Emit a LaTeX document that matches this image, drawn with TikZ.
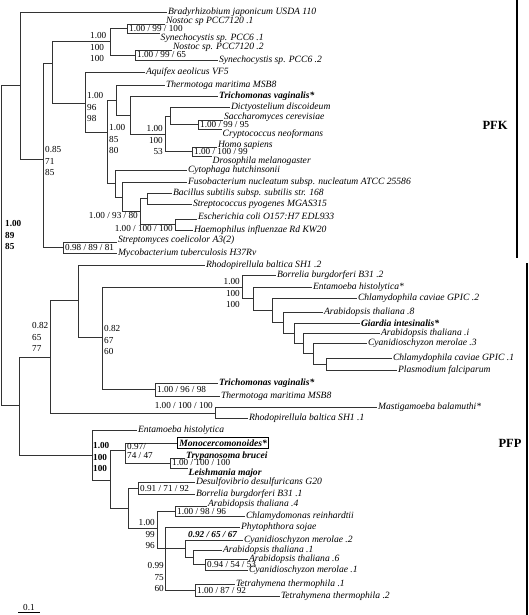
\documentclass[tikz,border=0pt]{standalone}
\usepackage{fontspec}
\setmainfont{Liberation Serif}
\usetikzlibrary{positioning}

\begin{document}
\begin{tikzpicture}[x=1pt,y=-1pt,
    br/.style={line width=0.8pt, black!80},
    leaf/.style={anchor=west, inner sep=0.8pt, font=\fontsize{9.6}{11}\selectfont\itshape},
    leafup/.style={leaf, anchor=base west},
    leafdn/.style={leaf, anchor=north west, inner sep=0.5pt},
    bleaf/.style={leaf, font=\fontsize{9.6}{11}\selectfont\bfseries\itshape},
    supp/.style={inner sep=0pt, align=left, font=\fontsize{9.2}{11.5}\selectfont},
    bsupp/.style={supp, font=\fontsize{9.2}{11.5}\selectfont\bfseries},
    grp/.style={font=\fontsize{12.5}{14}\selectfont\bfseries}]
  \useasboundingbox (0,0) rectangle (528,615);

  % PFK part
  \coordinate (r) at (1,245);
  \coordinate (n1) at (20,85);
  \coordinate (n2) at (43,159);
  \coordinate (n3) at (52,63);
  \coordinate (n4) at (110,41);
  \coordinate (n4a) at (127,28.5);
  \coordinate (n4b) at (135,55);
  \coordinate (n5) at (85,103);
  \coordinate (n6) at (107,132);
  \coordinate (n7) at (116,100);
  \coordinate (n8) at (130,115);
  \coordinate (n9) at (165,134);
  \coordinate (n10) at (170,116);
  \coordinate (n11) at (198,124.5);
  \coordinate (n12) at (192,151.5);
  \coordinate (n13) at (115,183.5);
  \coordinate (n14) at (122,197);
  \coordinate (n15) at (140,211.5);
  \coordinate (n16) at (147,198.5);
  \coordinate (n17) at (175,224.5);
  \coordinate (n18) at (63,247.5);

  \node[leaf] (bra) at (167,12) {Bradyrhizobium japonicum USDA 110};
  \node[leafup] (nos1) at (165,24) {Nostoc sp PCC7120 .1};
  \node[leafdn] (syn1) at (160,33) {Synechocystis sp. PCC6 .1};
  \node[leafup] (nos2) at (172,50) {Nostoc sp. PCC7120 .2};
  \node[leaf] (syn2) at (218,60) {Synechocystis sp. PCC6 .2};
  \node[leaf] (aqu) at (145,72) {Aquifex aeolicus VF5};
  \node[leaf] (thm1) at (165,85) {Thermotoga maritima MSB8};
  \node[bleaf] (tri1) at (218,96) {Trichomonas vaginalis*};
  \node[leaf] (dic) at (230,107) {Dictyostelium discoideum};
  \node[leafup] (sac) at (223,120) {Saccharomyces cerevisiae};
  \node[leafdn] (cry) at (222,129) {Cryptococcus neoformans};
  \node[leafup] (hom) at (217,147) {Homo sapiens};
  \node[leafdn] (dro) at (212,156) {Drosophila melanogaster};
  \node[leaf] (cyt) at (187,170) {Cytophaga hutchinsonii};
  \node[leaf] (fus) at (187,182) {Fusobacterium nucleatum subsp. nucleatum ATCC 25586};
  \node[leaf] (bac) at (172,193) {Bacillus subtilis subsp. subtilis str. 168};
  \node[leaf] (str) at (192,204) {Streptococcus pyogenes MGAS315};
  \node[leafup] (esc) at (197,219) {Escherichia coli O157:H7 EDL933};
  \node[leaf] (hae) at (193,230) {Haemophilus influenzae Rd KW20};
  \node[leafup] (stm) at (117,242) {Streptomyces coelicolor A3(2)};
  \node[leaf] (myc) at (117,253) {Mycobacterium tuberculosis H37Rv};

  % PFP part
  \coordinate (p0) at (19,405);
  \coordinate (p1) at (50,357);
  \coordinate (p2) at (78,300);
  \coordinate (p3) at (102,337);
  \coordinate (p4) at (242,287);
  \coordinate (p5) at (253,298);
  \coordinate (p6) at (272,310);
  \coordinate (p7) at (283,322);
  \coordinate (p8) at (294,333);
  \coordinate (p9) at (303,343);
  \coordinate (p10) at (313,353);
  \coordinate (p11) at (326,364);
  \coordinate (p12) at (155,389);
  \coordinate (p13) at (215,413);
  \coordinate (q0) at (92,455);
  \coordinate (qa) at (110,480);
  \coordinate (q1) at (125,450.5);
  \coordinate (q2) at (170,463);
  \coordinate (q3) at (128,508);
  \coordinate (q4) at (138,488);
  \coordinate (q5) at (157,528);
  \coordinate (q6) at (175,511);
  \coordinate (q7) at (165,548.5);
  \coordinate (q9) at (185,548.5);
  \coordinate (q10) at (193,557);
  \coordinate (q11) at (205,564.5);
  \coordinate (q12) at (195,590);

  \node[leaf] (rho2) at (205,265) {Rhodopirellula baltica SH1 .2};
  \node[leaf] (bor2) at (276,275) {Borrelia burgdorferi B31 .2};
  \node[leaf] (ent1) at (312,287) {Entamoeba histolytica*};
  \node[leaf] (chl2) at (357,298) {Chlamydophila caviae GPIC .2};
  \node[leaf] (ara8) at (323,312) {Arabidopsis thaliana .8};
  \node[bleaf] (gia) at (360,323) {Giardia intesinalis*};
  \node[leaf] (arai) at (380,333) {Arabidopsis thaliana .i};
  \node[leaf] (cya3) at (367,343) {Cyanidioschyzon merolae .3};
  \node[leaf] (chl1) at (392,358) {Chlamydophila caviae GPIC  .1};
  \node[leaf] (pla) at (397,370) {Plasmodium falciparum};
  \node[bleaf] (tri2) at (218,383) {Trichomonas vaginalis*};
  \node[leaf] (thm2) at (220,396) {Thermotoga maritima MSB8};
  \node[leaf] (mas) at (377,407) {Mastigamoeba balamuthi*};
  \node[leaf] (rho1) at (248,418) {Rhodopirellula baltica SH1 .1};
  \node[leaf] (ent2) at (137,430) {Entamoeba histolytica};
  \node[bleaf, draw, line width=0.8pt, inner sep=2pt] (mon) at (177,443) {Monocercomonoides*};
  \node[bleaf, anchor=base west] (try) at (185,458) {Trypanosoma brucei};
  \node[bleaf, anchor=north west, inner sep=0.5pt] (lei) at (188,468) {Leishmania major};
  \node[leaf] (des) at (195,482) {Desulfovibrio desulfuricans G20};
  \node[leaf] (bor1) at (195,494) {Borrelia burgdorferi B31 .1};
  \node[leafup] (ara4) at (207,506) {Arabidopsis thaliana .4};
  \node[leaf] (chm) at (245,516) {Chlamydomonas reinhardtii};
  \node[leaf] (phy) at (240,527) {Phytophthora sojae};
  \node[leaf] (cya2) at (243,540) {Cyanidioschyzon merolae .2};
  \node[leaf] (ara1) at (222,550) {Arabidopsis thaliana .1};
  \node[leaf] (ara6) at (248,559) {Arabidopsis thaliana .6};
  \node[leaf] (cya1) at (248,570) {Cyanidioschyzon merolae .1};
  \node[leaf] (tet1) at (235,584) {Tetrahymena thermophila .1};
  \node[leaf] (tet2) at (280,596) {Tetrahymena thermophila .2};

  % branches
  \foreach \a/\b in {r/n1, r/p0, n1/n2, n2/n3, n2/n18, n3/n4, n3/n5, n4/n4a, n4/n4b,
      n5/n6, n6/n7, n6/n13, n7/n8, n8/n9, n9/n10, n9/n12, n10/n11, n13/n14,
      n14/n15, n15/n16, n15/n17, p0/p1, p0/q0, p1/p2, p1/p13, p2/p3, p3/p4,
      p3/p12, p4/p5, p5/p6, p6/p7, p7/p8, p8/p9, p9/p10, p10/p11, q0/qa,
      qa/q1, qa/q3, q1/q2, q3/q4, q3/q5, q5/q6, q5/q7, q7/q9, q7/q12, q9/q10, q10/q11}
    \draw[br] (\a) |- (\b);
  \foreach \a/\b in {n1/bra, n4b/syn2, n5/aqu, n7/thm1, n8/tri1, n10/dic,
      n13/cyt, n14/fus, n16/bac, n16/str, n17/hae, n18/myc,
      p2/rho2, p4/bor2, p5/ent1, p6/chl2, p7/ara8, p8/gia, p9/arai, p10/cya3,
      p11/chl1, p11/pla, p12/tri2, p12/thm2, p13/mas, p13/rho1, q0/ent2, q1/mon,
      q4/des, q4/bor1, q6/chm, q7/phy, q9/cya2, q10/ara1, q11/ara6, q11/cya1,
      q12/tet1, q12/tet2}
    \draw[br] (\a) |- (\b.west);
  \foreach \a/\b in {n4a/nos1, n4b/nos2, n11/sac, n12/hom, n17/esc, n18/stm, q2/try, q6/ara4}
    \draw[br] (\a) |- (\b.base west);
  \foreach \a/\b in {n4a/syn1, n11/cry, n12/dro, q2/lei}
    \draw[br] (\a) |- (\b.north west);

  % support values
  \node[bsupp, anchor=west] (s0) at (5,235) {1.00\\89\\85};
  \node[supp, anchor=west] (s1) at (45,161) {0.85\\71\\85};
  \node[supp, anchor=west] (s2) at (90,47) {1.00\\100\\100};
  \node[supp, anchor=west] (s3) at (129,28.5) {1.00 / 99 / 100};
  \node[supp, anchor=west] (s4) at (137,55) {1.00 / 99 / 65};
  \node[supp, anchor=west] (s5) at (87,107) {1.00\\96\\98};
  \node[supp, anchor=west] (s6) at (109,139) {1.00\\85\\80};
  \node[supp, anchor=east, align=right] (s7) at (163,140) {1.00\\100\\53};
  \node[supp, anchor=west] (s8) at (200,124.5) {1.00 / 99 / 95};
  \node[supp, anchor=west] (s9) at (194,151.5) {1.00 / 100 / 99};
  \node[supp, anchor=east] (s10) at (138,216) {1.00 / 93 / 80};
  \node[supp, anchor=east] (s11) at (173,229) {1.00 / 100 / 100};
  \node[supp, anchor=west] (s12) at (65,247.5) {0.98 / 89 / 81};
  \node[supp, anchor=west] (s13) at (32,337) {0.82\\65\\77};
  \node[supp, anchor=west] (s14) at (104,340) {0.82\\67\\60};
  \node[supp, anchor=east, align=right] (s15) at (240,293) {1.00\\100\\100};
  \node[supp, anchor=west] (s16) at (157,389.5) {1.00 / 96 / 98};
  \node[supp, anchor=east] (s17) at (213,406) {1.00 / 100 / 100};
  \node[bsupp, anchor=west] (s18) at (93,457) {1.00\\100\\100};
  \node[supp, anchor=west, font=\fontsize{9.2}{8.3}\selectfont] (s19) at (127,451) {0.97/\\74 / 47};
  \node[supp, anchor=west] (s20) at (172,463) {1.00 / 100 / 100};
  \node[supp, anchor=west] (s21) at (140,488) {0.91 / 71 / 92};
  \node[supp, anchor=west] (s22) at (177,511) {1.00 / 98 / 96};
  \node[supp, anchor=east, align=right] (s23) at (155,534) {1.00\\99\\96};
  \node[bsupp, anchor=west, font=\fontsize{9.2}{11.5}\selectfont\bfseries\itshape] (s24) at (188,534) {0.92 / 65 / 67};
  \node[supp, anchor=west] (s25) at (207,564.5) {0.94 / 54 / 53};
  \node[supp, anchor=east, align=right] (s26) at (164,577) {0.99\\75\\60};
  \node[supp, anchor=west] (s27) at (197,590) {1.00 / 87 / 92};

  % scale bar
  \coordinate (sa) at (18,612);
  \coordinate (sb) at (40,612);
  \draw[line width=0.8pt] (sa) -- (sb) node[midway, above=1pt, supp] (sc) {0.1};

  % groups
  \coordinate (ka) at (517,0);
  \coordinate (kb) at (517,258);
  \coordinate (pa) at (527,263);
  \coordinate (pb) at (527,615);
  \draw[line width=1.8pt] (ka) -- (kb);
  \draw[line width=1.8pt] (pa) -- (pb);
  \node[grp] (pfk) at (495,125) {PFK};
  \node[grp] (pfp) at (510,443) {PFP};
\end{tikzpicture}
\end{document}
